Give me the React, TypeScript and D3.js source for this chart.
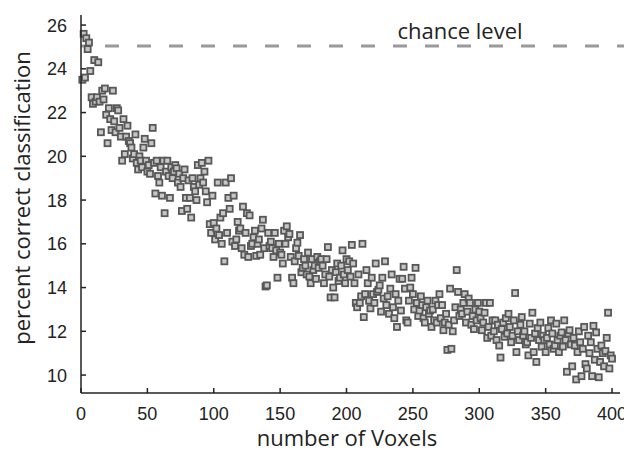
import * as d3 from "d3";
import React, { RefObject, useEffect, useRef } from "react";

// percent correct classification for 1..400 voxels
const accuracy: number[] = [
  23.5, 25.6, 23.6, 25.4, 24.9, 25.2, 23.9, 22.7, 22.4, 24.4,
  22.5, 22.7, 24.3, 22.5, 21.1, 23.0, 22.6, 23.1, 21.9, 20.6,
  22.2, 21.7, 21.2, 23.0, 21.6, 21.1, 22.2, 22.1, 21.3, 20.9,
  19.8, 21.7, 20.1, 20.9, 21.4, 20.7, 20.6, 20.4, 19.9, 20.1,
  21.0, 19.7, 19.4, 20.0, 19.8, 19.5, 20.4, 20.8, 19.8, 19.3,
  19.6, 19.2, 20.6, 21.3, 19.7, 18.3, 19.8, 19.1, 18.8, 19.5,
  18.2, 19.8, 17.4, 19.3, 19.8, 19.1, 18.1, 19.5, 19.0, 19.3,
  19.6, 19.45, 18.8, 19.2, 18.6, 17.5, 19.0, 19.4, 18.1, 17.6,
  18.9, 18.1, 17.2, 19.0, 18.6, 18.4, 18.0, 19.6, 18.7, 19.0,
  19.7, 18.8, 19.3, 18.4, 17.9, 19.8, 16.9, 16.5, 18.2, 16.95,
  16.2, 16.7, 18.8, 16.4, 17.2, 16.0, 17.4, 15.2, 18.8, 16.5,
  18.1, 17.6, 19.0, 16.1, 18.2, 15.9, 16.2, 17.0, 16.6, 16.7,
  15.8, 17.7, 15.5, 16.5, 17.4, 15.4, 17.3, 15.9, 16.0, 16.3,
  16.6, 15.45, 16.0, 16.2, 15.5, 16.7, 17.1, 15.8, 14.05, 14.1,
  16.5, 15.9, 16.1, 15.8, 15.4, 16.5, 15.7, 14.45, 16.0, 15.6,
  15.5, 15.1, 16.6, 16.0, 16.8, 16.3, 16.45, 15.4, 14.45, 14.2,
  15.2, 15.8, 16.05, 15.45, 16.4, 14.7, 14.9, 15.3, 15.0, 14.6,
  15.6, 14.5, 14.2, 15.3, 14.8, 15.0, 14.4, 15.4, 14.9, 15.2,
  15.3, 15.0, 14.2, 14.6, 15.3, 15.85, 14.5, 13.55, 14.8, 14.0,
  13.55, 14.7, 15.1, 14.3, 14.45, 15.0, 15.7, 14.6, 14.2, 15.3,
  14.8, 15.2, 14.5, 15.95, 15.1, 14.2, 13.3, 13.1, 14.6, 13.3,
  13.6, 16.0, 12.65, 13.7, 14.8, 14.2, 13.4, 13.05, 14.45, 13.7,
  13.3, 15.1, 13.8, 13.9, 14.1, 12.9, 14.45, 13.5, 15.2, 13.2,
  13.6, 12.8, 13.95, 14.6, 13.1, 12.6, 13.7, 12.2, 13.4, 14.4,
  12.95, 14.4, 14.95, 13.95, 12.5, 12.4, 13.4, 14.0, 14.45, 13.7,
  13.0, 14.9, 13.3, 12.7, 12.95, 13.6, 13.2, 12.6, 12.4, 13.1,
  13.4, 12.8, 12.95, 12.2, 13.0, 12.5, 13.4, 12.4, 13.2, 13.7,
  12.6, 13.2, 12.05, 12.4, 12.8, 11.15, 12.3, 13.95, 11.2, 12.0,
  12.5, 13.1, 14.8, 13.8, 12.7, 13.0, 12.8, 13.3, 13.7, 12.4,
  12.9, 13.5, 13.3, 12.3, 12.7, 12.1, 13.0, 12.5, 13.3, 12.9,
  12.6, 12.05, 12.4, 12.85, 13.3, 11.7, 12.2, 13.3, 11.8, 12.5,
  12.0, 12.5, 11.6, 12.3, 11.35, 10.8, 12.1, 12.4, 11.75, 12.6,
  11.9, 12.8, 12.2, 11.5, 11.8, 12.5, 13.75, 11.05, 12.0, 11.6,
  12.3, 12.65, 11.8, 12.0, 11.4, 11.5, 10.9, 12.35, 11.7, 12.85,
  11.05, 11.9, 10.6, 12.15, 11.6, 12.4, 11.3, 11.8, 11.6, 11.05,
  11.7, 12.15, 11.4, 12.5, 11.9, 11.2, 11.35, 12.35, 11.6, 11.05,
  11.8, 11.95, 11.3, 12.5, 11.6, 10.15, 11.9, 12.05, 11.4, 10.4,
  11.7, 11.35, 9.8, 11.05, 12.0, 11.5, 9.95, 11.2, 12.2, 10.5,
  10.3, 11.8, 11.0, 11.5, 9.95, 12.25, 10.7, 11.95, 11.2, 9.9,
  10.6, 11.35, 11.0, 10.4, 11.1, 11.7, 12.85, 10.3, 10.9, 10.75,
];
const voxels: number[] = accuracy.map((_, i) => i + 1);

const xTicks = [0, 50, 100, 150, 200, 250, 300, 350, 400];
const yTicks = [10, 12, 14, 16, 18, 20, 22, 24, 26];
const chanceLevel = 25;

const width = 624;
const height = 453;

const ScatterChart = () => {
  const d3Ref: RefObject<HTMLDivElement> = useRef(null);

  const drawChart = () => {
    d3.select(d3Ref.current).selectAll("*").remove();
    const svg = d3
      .select(d3Ref.current)
      .append("svg")
      .attr("width", width)
      .attr("height", height)
      .style("position", "absolute")
      .style("left", "0px")
      .style("top", "0px");

    svg.append("rect").attr("width", width).attr("height", height).attr("fill", "#fff");

    const x = d3.scaleLinear().domain([0, 406]).range([81, 620]);
    const y = d3.scaleLinear().domain([9.18, 26.46]).range([393, 15]);

    const axisColor = "#222";
    const tickFont = "'Liberation Sans', Arial, sans-serif";
    const titleFont = "'Open Sans', 'Noto Sans', sans-serif";

    // chance line
    svg
      .append("line")
      .attr("x1", x(0))
      .attr("x2", width)
      .attr("y1", y(chanceLevel) - 1)
      .attr("y2", y(chanceLevel) - 1)
      .attr("stroke", "#999")
      .attr("stroke-width", 3)
      .attr("stroke-dasharray", "14 18")
      .attr("stroke-dashoffset", 8);

    svg
      .append("text")
      .attr("x", 460)
      .attr("y", 39)
      .attr("text-anchor", "middle")
      .attr("font-family", titleFont)
      .attr("font-size", 22)
      .attr("fill", "#222")
      .text("chance level");

    // points
    svg
      .append("g")
      .selectAll("rect")
      .data(accuracy)
      .enter()
      .append("rect")
      .attr("x", (d, i) => x(voxels[i]) - 3)
      .attr("y", (d) => y(d) - 3)
      .attr("width", 6)
      .attr("height", 6)
      .attr("fill", "#c6c6c6")
      .attr("stroke", "#575757")
      .attr("stroke-width", 1.8);

    // axes
    const g = svg.append("g");
    g.append("line")
      .attr("x1", x(0))
      .attr("x2", x(0))
      .attr("y1", 15)
      .attr("y2", 393)
      .attr("stroke", axisColor)
      .attr("stroke-width", 1.5);
    g.append("line")
      .attr("x1", x(0))
      .attr("x2", 620)
      .attr("y1", 393)
      .attr("y2", 393)
      .attr("stroke", axisColor)
      .attr("stroke-width", 1.5);

    yTicks.forEach((t) => {
      g.append("line")
        .attr("x1", x(0))
        .attr("x2", x(0) + 5)
        .attr("y1", y(t))
        .attr("y2", y(t))
        .attr("stroke", axisColor)
        .attr("stroke-width", 1.5);
      g.append("text")
        .attr("x", 67)
        .attr("y", y(t) + 6.5)
        .attr("text-anchor", "end")
        .attr("font-family", tickFont)
        .attr("font-size", 18)
        .attr("fill", "#222")
        .text(String(t));
    });

    xTicks.forEach((t) => {
      g.append("line")
        .attr("x1", x(t))
        .attr("x2", x(t))
        .attr("y1", 393)
        .attr("y2", 388)
        .attr("stroke", axisColor)
        .attr("stroke-width", 1.5);
      g.append("text")
        .attr("x", x(t))
        .attr("y", 420)
        .attr("text-anchor", "middle")
        .attr("font-family", tickFont)
        .attr("font-size", 18)
        .attr("fill", "#222")
        .text(String(t));
    });

    g.append("text")
      .attr("x", 347)
      .attr("y", 446)
      .attr("text-anchor", "middle")
      .attr("font-family", titleFont)
      .attr("font-size", 22)
      .attr("fill", "#222")
      .text("number of Voxels");

    g.append("text")
      .attr("transform", "translate(30, 198) rotate(-90)")
      .attr("text-anchor", "middle")
      .attr("font-family", titleFont)
      .attr("font-size", 22)
      .attr("fill", "#222")
      .text("percent correct classification");
  };

  useEffect(() => {
    drawChart();
  }, [d3Ref]);

  return <div ref={d3Ref} />;
};

export default function App() {
  return <ScatterChart />;
}
